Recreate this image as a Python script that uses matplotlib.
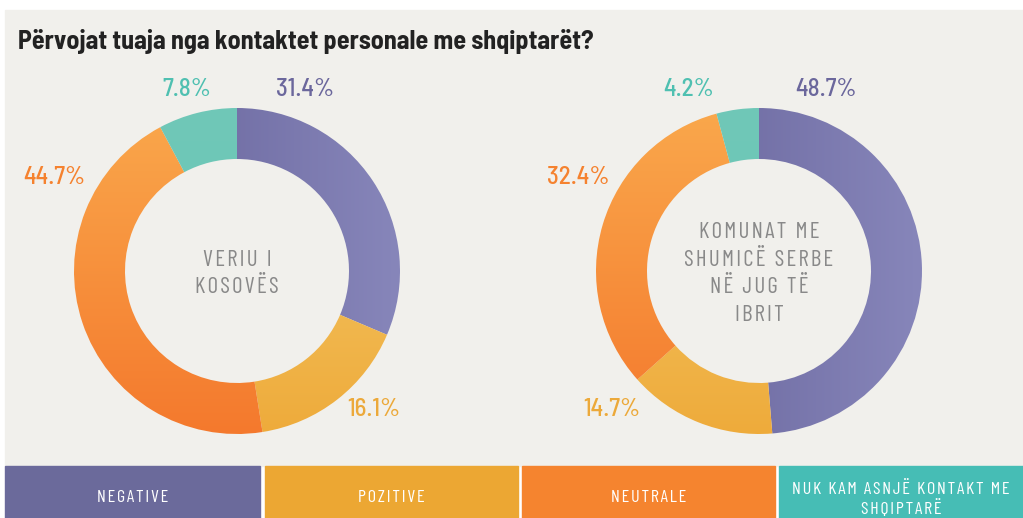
import numpy as np
import matplotlib
matplotlib.use('Agg')
import matplotlib.pyplot as plt
from matplotlib import font_manager as fm
from matplotlib.patches import Wedge, Rectangle
from matplotlib.colors import LinearSegmentedColormap

# ---------------- data ----------------
categories = ['NEGATIVE', 'POZITIVE', 'NEUTRALE', 'NUK KAM ASNJË KONTAKT ME\nSHQIPTARË']
regions = ['VERIU I\nKOSOVËS', 'KOMUNAT ME\nSHUMICË SERBE\nNË JUG TË\nIBRIT']
veriu = [31.4, 16.1, 44.7, 7.8]
jugu = [48.7, 14.7, 32.4, 4.2]
title = 'Përvojat tuaja nga kontaktet personale me shqiptarët?'

# gradient ends per category (start, end, direction)
grad = [('#625e96', '#8786ba', 'h'),
        ('#f6cd70', '#eeab3b', 'v'),
        ('#faa84c', '#f4792d', 'v'),
        ('#70c8b8', '#66c3b4', 'v')]
txt_col = ['#6b679c', '#eca93a', '#f5822f', '#4fc0b1']
leg_col = ['#6b6a9b', '#eca733', '#f5842f', '#46bdb5']

installed = {f.name for f in fm.fontManager.ttflist}


def pick(*names):
    return [n for n in names if n in installed] + ['DejaVu Sans']


COND = pick('Barlow Condensed', 'IBM Plex Sans Condensed', 'Open Sans Condensed')
SEMI = pick('Barlow Semi Condensed', 'Barlow Condensed', 'IBM Plex Sans Condensed')

fig = plt.figure(figsize=(10.23, 5.18), dpi=100)
fig.patch.set_facecolor('white')
ax = fig.add_axes([0, 0, 1, 1])
ax.set_xlim(0, 1023)
ax.set_ylim(518, 0)
ax.axis('off')

# panel
ax.add_patch(Rectangle((5, 10), 1018, 456, color='#f1f0ec', zorder=0))

ax.text(18, 41, title, fontsize=18.8, fontweight='bold', color='#222222',
        family=SEMI, va='center', ha='left')


def spaced(s, sep='\u200a'):
    return '\n'.join(sep.join(line) for line in s.split('\n'))


def donut(cx, cy, values, label, pct_pos):
    r_out, r_in = 163, 112
    start = -90.0
    for i, v in enumerate(values):
        end = start + v * 3.6
        w = Wedge((cx, cy), r_out, start, end, width=r_out - r_in,
                  facecolor='none', edgecolor='none')
        ax.add_patch(w)
        c0, c1, d = grad[i]
        cmap = LinearSegmentedColormap.from_list('g%d' % i, [c0, c1])
        g = np.linspace(0, 1, 256)
        img = np.tile(g, (256, 1)) if d == 'h' else np.tile(g[:, None], (1, 256))
        im = ax.imshow(img, cmap=cmap, extent=(cx - r_out, cx + r_out, cy + r_out, cy - r_out),
                       origin='upper', interpolation='bilinear', zorder=1)
        im.set_clip_path(w)
        start = end
    ax.set_xlim(0, 1023)
    ax.set_ylim(518, 0)
    ax.text(cx, cy + 3, spaced(label), ha='center', va='center', fontsize=16.5,
            color='#898989', family=COND, linespacing=1.42)
    for i, v in enumerate(values):
        x, y = pct_pos[i]
        ax.text(x, y, '%.1f%%' % v, ha='center', va='center', fontsize=18,
                fontweight='medium', color=txt_col[i], family=SEMI)


donut(237, 271, veriu, regions[0], [(305, 89), (374, 410), (54, 178), (187, 89)])
donut(759, 271, jugu, regions[1], [(826, 89), (612, 410), (578, 178), (689, 89)])

# legend boxes
boxes = [(5, 260), (265, 518), (522, 775), (779, 1023)]
for i, (x0, x1) in enumerate(boxes):
    ax.add_patch(Rectangle((x0, 466), x1 - x0, 60, color=leg_col[i], zorder=2))
    multi = '\n' in categories[i]
    ax.text((x0 + x1) / 2, 499 if multi else 497, spaced(categories[i]), ha='center',
            va='center', fontsize=13, fontweight='normal', color='white', family=COND,
            zorder=3, linespacing=1.2)

fig.savefig('out.png', dpi=100, facecolor=fig.get_facecolor())
